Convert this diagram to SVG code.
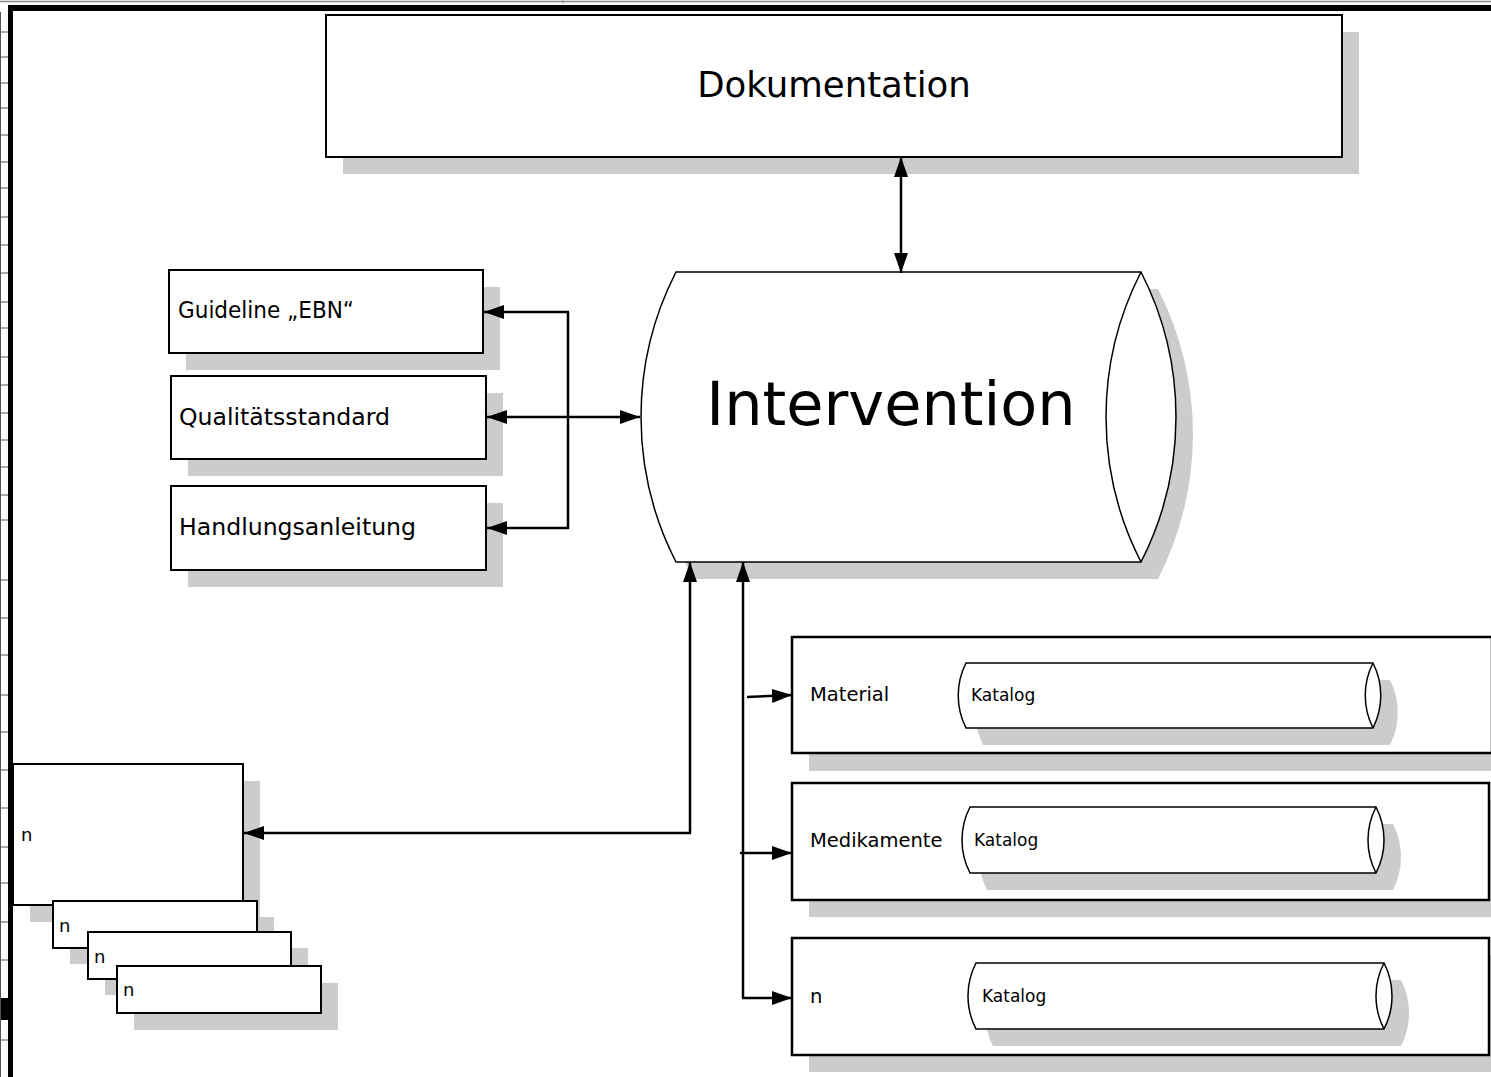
<svg xmlns="http://www.w3.org/2000/svg" width="1491" height="1077" viewBox="0 0 1491 1077">
  <style>
    .shadow { fill: #cccccc; stroke: none; }
    .box { fill: #ffffff; stroke: #000000; stroke-width: 2; }
    .box3 { fill: #ffffff; stroke: #000000; stroke-width: 2.5; }
    .cyl { fill: #ffffff; stroke: #000000; stroke-width: 1.5; }
    .conn { fill: none; stroke: #000000; stroke-width: 2.5; }
    .lbl { font-family: "DejaVu Sans", Verdana, sans-serif; fill: #000000; }
    .tick { stroke: #555555; stroke-width: 1; }
  </style>
  <defs>
    <marker id="arrow" viewBox="0 0 20 14" refX="20" refY="7" markerWidth="20" markerHeight="14" markerUnits="userSpaceOnUse" orient="auto-start-reverse">
      <path d="M0,0 L20,7 L0,14 Z" fill="#000000"/>
    </marker>
  </defs>

  <rect width="1491" height="1077" fill="#ffffff"/>

  <!-- page frame -->
  <g id="frame">
    <line x1="0" y1="1.5" x2="1491" y2="1.5" stroke="#888888" stroke-width="1.5"/>
    <line x1="563" y1="0" x2="563" y2="4" stroke="#999999" stroke-width="1"/>
    <rect x="8" y="5" width="1483" height="6" fill="#000000"/>
    <rect x="8" y="5" width="5" height="1072" fill="#000000"/>
    <rect x="0" y="998" width="13" height="22" fill="#000000"/>
    <line class="tick" x1="0.5" y1="12" x2="0.5" y2="1077"/>
    <g class="tick">
      <line x1="0" y1="32" x2="8" y2="32"/>
      <line x1="0" y1="57" x2="8" y2="57"/>
      <line x1="0" y1="83" x2="8" y2="83"/>
      <line x1="0" y1="108" x2="8" y2="108"/>
      <line x1="0" y1="135" x2="8" y2="135"/>
      <line x1="0" y1="162" x2="8" y2="162"/>
      <line x1="0" y1="188" x2="8" y2="188"/>
      <line x1="0" y1="217" x2="8" y2="217"/>
      <line x1="0" y1="245" x2="8" y2="245"/>
      <line x1="0" y1="273" x2="8" y2="273"/>
      <line x1="0" y1="302" x2="8" y2="302"/>
      <line x1="0" y1="328" x2="8" y2="328"/>
      <line x1="0" y1="357" x2="8" y2="357"/>
      <line x1="0" y1="385" x2="8" y2="385"/>
      <line x1="0" y1="413" x2="8" y2="413"/>
      <line x1="0" y1="440" x2="8" y2="440"/>
      <line x1="0" y1="467" x2="8" y2="467"/>
      <line x1="0" y1="495" x2="8" y2="495"/>
      <line x1="0" y1="520" x2="8" y2="520"/>
      <line x1="0" y1="580" x2="8" y2="580"/>
      <line x1="0" y1="618" x2="8" y2="618"/>
      <line x1="0" y1="655" x2="8" y2="655"/>
      <line x1="0" y1="695" x2="8" y2="695"/>
      <line x1="0" y1="732" x2="8" y2="732"/>
      <line x1="0" y1="770" x2="8" y2="770"/>
      <line x1="0" y1="808" x2="8" y2="808"/>
      <line x1="0" y1="847" x2="8" y2="847"/>
      <line x1="0" y1="883" x2="8" y2="883"/>
      <line x1="0" y1="922" x2="8" y2="922"/>
      <line x1="0" y1="960" x2="8" y2="960"/>
      <line x1="0" y1="1040" x2="8" y2="1040"/>
    </g>
  </g>

  <!-- Dokumentation -->
  <g id="node-dokumentation">
    <rect class="shadow" x="343" y="32" width="1016" height="142"/>
    <rect class="box" x="326" y="15" width="1016" height="142"/>
    <text class="lbl" x="834" y="97" font-size="35.5" text-anchor="middle">Dokumentation</text>
  </g>

  <!-- Intervention (cylinder) -->
  <g id="node-intervention">
    <path class="shadow" d="M693,289 L1158,289 A318,318 0 0 1 1158,579 L693,579 A318,318 0 0 1 693,289 Z"/>
    <path class="cyl" d="M676,272 L1141,272 A318,318 0 0 1 1141,562 L676,562 A318,318 0 0 1 676,272 Z"/>
    <path class="cyl" d="M1141,272 A318,318 0 0 0 1141,562"/>
    <text class="lbl" x="891" y="425" font-size="60.5" text-anchor="middle">Intervention</text>
  </g>

  <!-- Guideline / standards -->
  <g id="node-guideline">
    <rect class="shadow" x="186" y="287" width="314" height="83"/>
    <rect class="box" x="169" y="270" width="314" height="83"/>
    <text class="lbl" x="178" y="318" font-size="23" textLength="176" lengthAdjust="spacingAndGlyphs">Guideline „EBN“</text>
  </g>
  <g id="node-qualitaetsstandard">
    <rect class="shadow" x="188" y="393" width="315" height="83"/>
    <rect class="box" x="171" y="376" width="315" height="83"/>
    <text class="lbl" x="179" y="425" font-size="23.6">Qualitätsstandard</text>
  </g>
  <g id="node-handlungsanleitung">
    <rect class="shadow" x="188" y="503" width="315" height="84"/>
    <rect class="box" x="171" y="486" width="315" height="84"/>
    <text class="lbl" x="179" y="535" font-size="23.6">Handlungsanleitung</text>
  </g>

  <!-- stacked n documents -->
  <g id="node-n-main">
    <rect class="shadow" x="30" y="781" width="230" height="141"/>
    <rect class="box" x="13" y="764" width="230" height="141"/>
    <text class="lbl" x="21" y="841" font-size="18">n</text>
  </g>
  <g id="node-n-1">
    <rect class="shadow" x="70" y="917" width="204" height="47"/>
    <rect class="box" x="53" y="901" width="204" height="47"/>
    <text class="lbl" x="59" y="932" font-size="18">n</text>
  </g>
  <g id="node-n-2">
    <rect class="shadow" x="105" y="948" width="203" height="47"/>
    <rect class="box" x="88" y="932" width="203" height="47"/>
    <text class="lbl" x="94" y="963" font-size="18">n</text>
  </g>
  <g id="node-n-3">
    <rect class="shadow" x="134" y="983" width="204" height="47"/>
    <rect class="box" x="117" y="966" width="204" height="47"/>
    <text class="lbl" x="123" y="996" font-size="18">n</text>
  </g>

  <!-- Material -->
  <g id="node-material">
    <rect class="shadow" x="809" y="654" width="700" height="117"/>
    <rect class="box3" x="792" y="637" width="700" height="116"/>
    <text class="lbl" x="810" y="701" font-size="19.5">Material</text>
    <path class="shadow" d="M983,680 L1390,680 A72,72 0 0 1 1390,745 L983,745 A72,72 0 0 1 983,680 Z"/>
    <path class="cyl" d="M966,663 L1373,663 A72,72 0 0 1 1373,728 L966,728 A72,72 0 0 1 966,663 Z"/>
    <path class="cyl" d="M1373,663 A72,72 0 0 0 1373,728"/>
    <text class="lbl" x="971" y="701" font-size="17">Katalog</text>
  </g>

  <!-- Medikamente -->
  <g id="node-medikamente">
    <rect class="shadow" x="809" y="800" width="697" height="117"/>
    <rect class="box3" x="792" y="783" width="697" height="117"/>
    <text class="lbl" x="810" y="847" font-size="19.5">Medikamente</text>
    <path class="shadow" d="M987,824 L1393,824 A72,72 0 0 1 1393,890 L987,890 A72,72 0 0 1 987,824 Z"/>
    <path class="cyl" d="M970,807 L1376,807 A72,72 0 0 1 1376,873 L970,873 A72,72 0 0 1 970,807 Z"/>
    <path class="cyl" d="M1376,807 A72,72 0 0 0 1376,873"/>
    <text class="lbl" x="974" y="846" font-size="17">Katalog</text>
  </g>

  <!-- n (catalogue) -->
  <g id="node-n-katalog">
    <rect class="shadow" x="809" y="955" width="697" height="117"/>
    <rect class="box3" x="792" y="938" width="697" height="117"/>
    <text class="lbl" x="810" y="1003" font-size="19.5">n</text>
    <path class="shadow" d="M993,980 L1401,980 A72,72 0 0 1 1401,1046 L993,1046 A72,72 0 0 1 993,980 Z"/>
    <path class="cyl" d="M976,963 L1384,963 A72,72 0 0 1 1384,1029 L976,1029 A72,72 0 0 1 976,963 Z"/>
    <path class="cyl" d="M1384,963 A72,72 0 0 0 1384,1029"/>
    <text class="lbl" x="982" y="1002" font-size="17">Katalog</text>
  </g>

  <!-- connectors -->
  <g id="connectors">
    <line class="conn" x1="901" y1="157" x2="901" y2="273" marker-start="url(#arrow)" marker-end="url(#arrow)"/>
    <line class="conn" x1="568" y1="312" x2="568" y2="529"/>
    <line class="conn" x1="569" y1="312" x2="484" y2="312" marker-end="url(#arrow)"/>
    <line class="conn" x1="487" y1="417" x2="640" y2="417" marker-start="url(#arrow)" marker-end="url(#arrow)"/>
    <line class="conn" x1="569" y1="528" x2="487" y2="528" marker-end="url(#arrow)"/>
    <path class="conn" d="M690,833 L690,562" marker-end="url(#arrow)"/>
    <path class="conn" d="M691,833 L244,833" marker-end="url(#arrow)"/>
    <path class="conn" d="M743,998 L743,562" marker-end="url(#arrow)"/>
    <line class="conn" x1="747" y1="697" x2="792" y2="695" marker-end="url(#arrow)"/>
    <line class="conn" x1="740" y1="853" x2="792" y2="853" marker-end="url(#arrow)"/>
    <line class="conn" x1="742" y1="998" x2="792" y2="998" marker-end="url(#arrow)"/>
  </g>
</svg>
